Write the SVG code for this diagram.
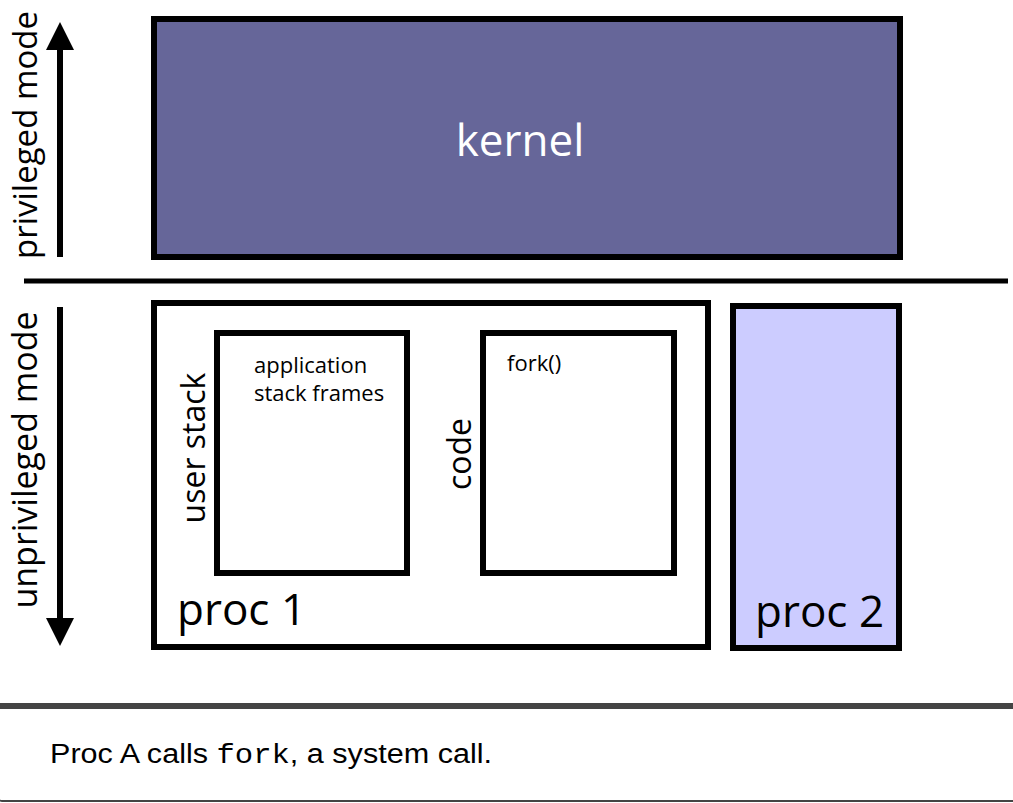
<svg xmlns="http://www.w3.org/2000/svg" width="1013" height="803" viewBox="0 0 1013 803">
<style>
.box{stroke:#000;stroke-width:6}
.t{font-family:"Open Sans","Liberation Sans",sans-serif;fill:#000}
.cap{font-family:"Liberation Sans","DejaVu Sans",sans-serif;font-size:27px;fill:#000}
</style>
<defs>
<marker id="ah" viewBox="0 0 30 28" refX="2" refY="14" markerUnits="userSpaceOnUse" markerWidth="30" markerHeight="28" orient="auto">
<path d="M0,0 L28,14 L0,28 Z" fill="#000"/>
</marker>
</defs>
<rect width="1013" height="803" fill="#fff"/>
<g id="kernel">
<rect class="box" x="154" y="19" width="746" height="238" fill="#666699"/>
<text class="t" x="520" y="156" font-size="44" text-anchor="middle" style="fill:#fff">kernel</text>
</g>
<g id="divider">
<line x1="24" y1="281" x2="1008" y2="281" stroke="#000" stroke-width="5"/>
</g>
<g id="privileged-mode">
<text class="t" transform="translate(37,135) rotate(-90)" font-size="33" text-anchor="middle">privileged mode</text>
</g>
<g id="unprivileged-mode">
<text class="t" transform="translate(37,460) rotate(-90)" font-size="34" text-anchor="middle">unprivileged mode</text>
</g>
<g id="proc1">
<rect class="box" x="154" y="303" width="554" height="344" fill="#fff"/>
<text class="t" x="177" y="625" font-size="44">proc 1</text>
</g>
<g id="user-stack">
<rect class="box" x="217" y="333" width="190" height="240" fill="#fff"/>
<text class="t" transform="translate(205,448) rotate(-90)" font-size="32" text-anchor="middle">user stack</text>
<text class="t" x="254" y="373" font-size="22">application</text>
<text class="t" x="254" y="401" font-size="22">stack frames</text>
</g>
<g id="code">
<rect class="box" x="483" y="333" width="191" height="240" fill="#fff"/>
<text class="t" transform="translate(471,454) rotate(-90)" font-size="32" text-anchor="middle">code</text>
<text class="t" x="507" y="371" font-size="22">fork()</text>
</g>
<g id="proc2">
<rect class="box" x="733" y="306" width="166" height="342" fill="#ccccff"/>
<text class="t" x="755" y="627" font-size="44">proc 2</text>
</g>
<g id="connectors">
<line x1="60" y1="257" x2="60" y2="48" stroke="#000" stroke-width="6" marker-end="url(#ah)"/>
<line x1="60" y1="307" x2="60" y2="620" stroke="#000" stroke-width="6" marker-end="url(#ah)"/>
</g>
<g id="caption">
<rect x="-2" y="706" width="1020" height="95" rx="4" fill="#fff" stroke="#444" stroke-width="2"/>
<line x1="0" y1="706" x2="1013" y2="706" stroke="#444" stroke-width="6"/>
<text class="cap" x="50" y="763" textLength="442" lengthAdjust="spacingAndGlyphs">Proc A calls <tspan font-family="'Liberation Mono','DejaVu Sans Mono',monospace">fork</tspan>, a system call.</text>
</g>
</svg>
